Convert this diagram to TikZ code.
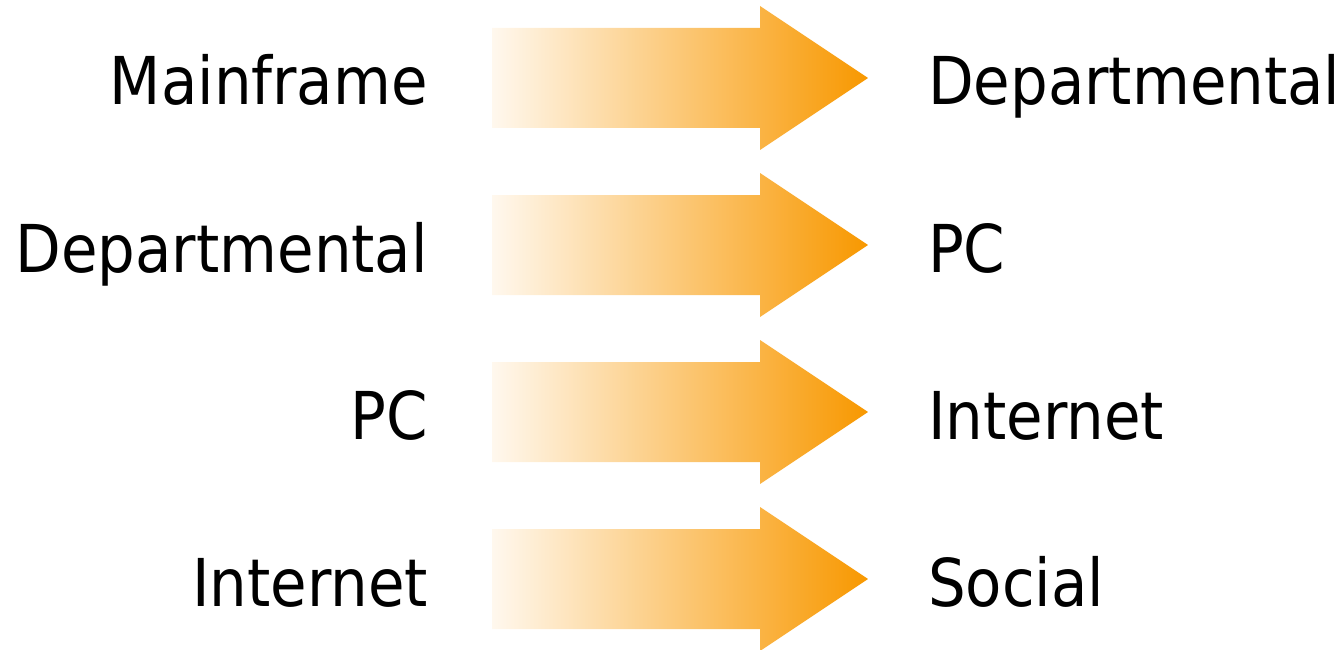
\documentclass[tikz,border=0pt]{standalone}
\usepackage{fontspec}
\setmainfont{DejaVu Sans Condensed}
\usepackage{tikz}
\usetikzlibrary{calc}

\definecolor{arrowlight}{RGB}{255,248,238}
\definecolor{arrowdark}{RGB}{248,152,0}

\begin{document}
\begin{tikzpicture}[x=1pt,y=-1pt,
    every node/.style={inner sep=0pt,font=\fontsize{66}{70}\selectfont},
    era/.style={left color=arrowlight,right color=arrowdark,draw=none}]
  \useasboundingbox (0,0) rectangle (1344,650);
  \foreach \i/\old/\new in {1/Mainframe/Departmental,2/Departmental/PC,3/PC/Internet,4/Internet/Social}{
    \pgfmathsetmacro{\c}{78+167*(\i-1)}
    \coordinate (tail\i) at (492,\c);
    \coordinate (tip\i) at (868,\c);
    \node[anchor=base east] (old\i) at (428,\c+27) {\old};
    \node[anchor=base west] (new\i) at (928,\c+27) {\new};
    % the shaded arrow
    \shade[era] ($(tail\i)+(0,-50)$) -- ++(268,0) -- ++(0,-22) -- (tip\i)
      -- ($(tail\i)+(268,72)$) -- ++(0,-22) -- ($(tail\i)+(0,50)$) -- cycle;
  }
\end{tikzpicture}
\end{document}
